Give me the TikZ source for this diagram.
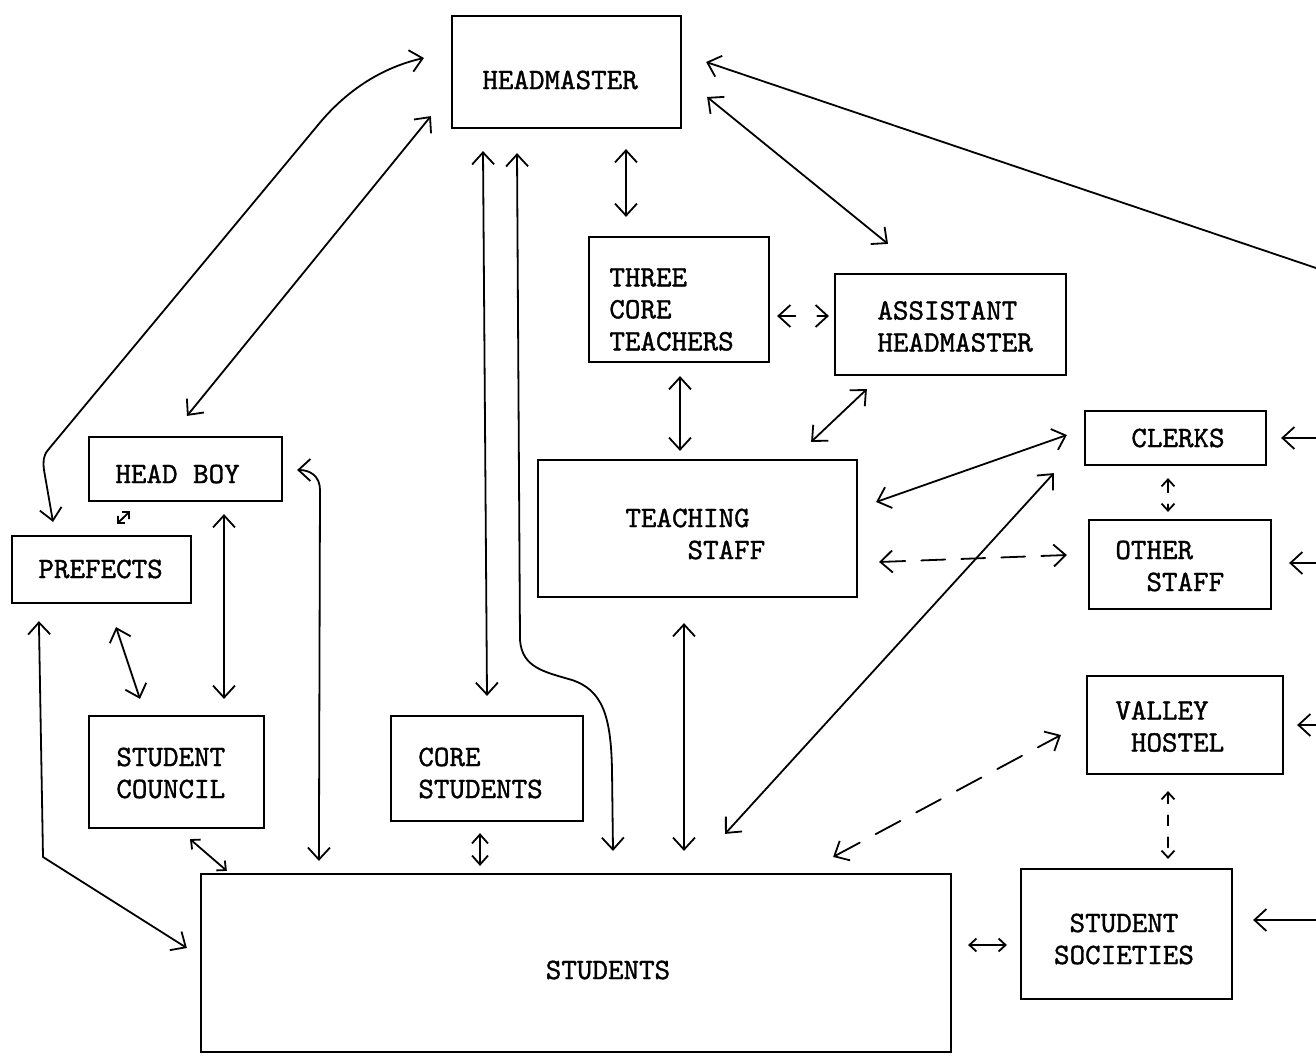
\documentclass[tikz,border=0pt]{standalone}
\usepackage{fontspec}
\newfontfamily\tw{lmmono10-regular}[Extension=.otf, RawFeature={embolden=1.2}]
\usetikzlibrary{arrows.meta}
\newcommand\mybox[5]{\node[box, minimum width={(#4-#2)*0.5pt}, minimum height={(#5-#3)*0.5pt}] (#1) at ({(#2+#4)/2},{(#3+#5)/2}) {};}
\begin{document}
\begin{tikzpicture}[x=0.5pt,y=-0.5pt,
  box/.style={draw, line width=1.1pt, inner sep=0pt},
  txt/.style={inner sep=0pt, align=left, font=\fontsize{14.8}{16}\selectfont\tw},
  conn/.style={line width=0.9pt, line cap=round, line join=round},
  >={Straight Barb[length=6pt,width=11pt]},
  sm/.style={>={Straight Barb[length=3.5pt,width=6.5pt]}},
  dsh/.style={dash pattern=on 12pt off 8pt}
]
\fill[white] (0,0) rectangle (1316,1059);
\useasboundingbox (0,0) rectangle (1316,1059);

% boxes
\mybox{hm}{452}{16}{681}{128}
\mybox{tct}{589}{237}{769}{362}
\mybox{ahm}{835}{274}{1066}{375}
\mybox{hb}{89}{437}{282}{501}
\mybox{pf}{12}{536}{191}{603}
\mybox{ts}{538}{460}{857}{597}
\mybox{cl}{1085}{411}{1266}{465}
\mybox{os}{1089}{520}{1271}{609}
\mybox{vh}{1087}{676}{1283}{774}
\mybox{ss}{1021}{869}{1232}{999}
\mybox{sc}{89}{716}{264}{828}
\mybox{cs}{391}{716}{583}{821}
\mybox{st}{201}{874}{951}{1052}

% texts
\node[txt, anchor=west] (hm-t) at (482,80) {HEADMASTER};
\node[txt, anchor=west] (tct-t) at (609,309.5) {THREE\\CORE\\TEACHERS};
\node[txt, anchor=west] (ahm-t) at (877,326.5) {ASSISTANT\\HEADMASTER};
\node[txt, anchor=west] (hb-t) at (115,474) {HEAD BOY};
\node[txt, anchor=west] (pf-t) at (38,569) {PREFECTS};
\node[txt, anchor=west] (ts-t) at (625,534) {TEACHING\\\phantom{TEAC}STAFF};
\node[txt, anchor=west] (cl-t) at (1131,438) {CLERKS};
\node[txt, anchor=west] (os-t) at (1115,566) {OTHER\\\phantom{OT}STAFF};
\node[txt, anchor=west] (vh-t) at (1115,726.5) {VALLEY\\\phantom{V}HOSTEL};
\node[txt, align=center] (ss-t) at (1124,939) {STUDENT\\SOCIETIES};
\node[txt, anchor=west] (sc-t) at (116,773) {STUDENT\\COUNCIL};
\node[txt, anchor=west] (cs-t) at (418,773) {CORE\\STUDENTS};
\node[txt] (st-t) at (608,970) {STUDENTS};

% free ends at the right edge
\coordinate (r1) at (1316,268);
\coordinate (r2) at (1316,438);
\coordinate (r3) at (1316,563);
\coordinate (r4) at (1316,725);
\coordinate (r5) at (1316,920);

% connectors
\draw[conn,<->] ([shift={(-27,-14)}]hm.west) .. controls (380,68) and (345,92) .. (318,125) -- (48,450) .. controls (43,456) and (43,462) .. (44,470) -- ([shift={(-48.5,-13)}]pf.north);
\draw[conn,<->] ([shift={(-20,-13)}]hm.south west) -- ([shift={(1.5,-20)}]hb.north);
\draw[conn,<->] ([shift={(-83.5,22)}]hm.south) -- ([shift={(0,-19)}]cs.north);
\draw[conn,<->] ([shift={(-49.5,24)}]hm.south) -- (520,640) .. controls (522,668) and (545,672) .. (572,680) .. controls (602,690) and (611,715) .. (612,770) -- ([shift={(37,-22)}]st.north);
\draw[conn,<->] ([shift={(59.5,20)}]hm.south) -- ([shift={(-53,-19)}]tct.north);
\draw[conn,<->] ([shift={(25,25)}]hm.east) -- ([shift={(-62.5,-29)}]ahm.north);
\draw[conn,->] (r1) -- ([shift={(24,-10)}]hm.east);
\draw[conn,<->,dash pattern=on 8pt off 11pt] ([shift={(7,16.5)}]tct.east) -- ([shift={(-5,-8.5)}]ahm.west);
\draw[conn,<->] ([shift={(1,13)}]tct.south) -- ([shift={(-17.5,-8)}]ts.north);
\draw[conn,<->] ([shift={(33,13)}]ahm.south west) -- ([shift={(-47,-17)}]ts.north east);
\draw[conn,<->] ([shift={(18,-26.5)}]ts.east) -- ([shift={(-17,-3)}]cl.west);
\draw[conn,<->,dsh] ([shift={(21,33.5)}]ts.east) -- ([shift={(-21,-9.5)}]os.west);
\draw[conn,<->] ([shift={(149,-39)}]st.north) -- ([shift={(-30,7)}]cl.south west);
\draw[conn,<->,sm,dash pattern=on 6pt off 6pt] ([shift={(-7.5,12)}]cl.south) -- ([shift={(-12,-7)}]os.north);
\draw[conn,->] (r2) -- ([shift={(14,0)}]cl.east);
\draw[conn,->] (r3) -- ([shift={(17,-1.5)}]os.east);
\draw[conn,->] (r4) -- ([shift={(13,0)}]vh.east);
\draw[conn,->] (r5) -- ([shift={(20,-14)}]ss.east);
\draw[conn,<->,sm,dash pattern=on 5pt off 6pt] ([shift={(-17,16)}]vh.south) -- ([shift={(41.5,-9)}]ss.north);
\draw[conn,<->,dash pattern=on 14pt off 9pt] ([shift={(-119,-16)}]st.north east) -- ([shift={(-25,10)}]vh.west);
\draw[conn,<->,sm] ([shift={(16,-18)}]st.east) -- ([shift={(-13,11)}]ss.west);
\draw[conn,<->] ([shift={(-13.5,25)}]ts.south) -- ([shift={(108,-22)}]st.north);
\draw[conn,<->,>={Straight Barb[length=4.5pt,width=8pt]}] ([shift={(-7,11)}]cs.south) -- ([shift={(-96,-7)}]st.north);
\draw[conn,<->,sm] ([shift={(13.5,10)}]sc.south) -- ([shift={(27,-2)}]st.north west);
\draw[conn,<->] ([shift={(38.5,12)}]hb.south) -- ([shift={(47.5,-16)}]sc.north);
\draw[conn,<->] ([shift={(14.5,23)}]pf.south) -- ([shift={(-36.5,-16)}]sc.north);
\draw[conn,<->,>={Straight Barb[length=2.5pt,width=5pt]}] ([shift={(15.5,-11)}]pf.north) -- ([shift={(-55.5,9)}]hb.south);
\draw[conn,<->] ([shift={(119,-12)}]st.north west) -- (320,490) .. controls (320,476) and (310,470) .. ([shift={(14,1)}]hb.east);
\draw[conn,<->] ([shift={(28,17)}]pf.south west) -- (43,857) -- ([shift={(-13,-15)}]st.west);
\end{tikzpicture}
\end{document}
